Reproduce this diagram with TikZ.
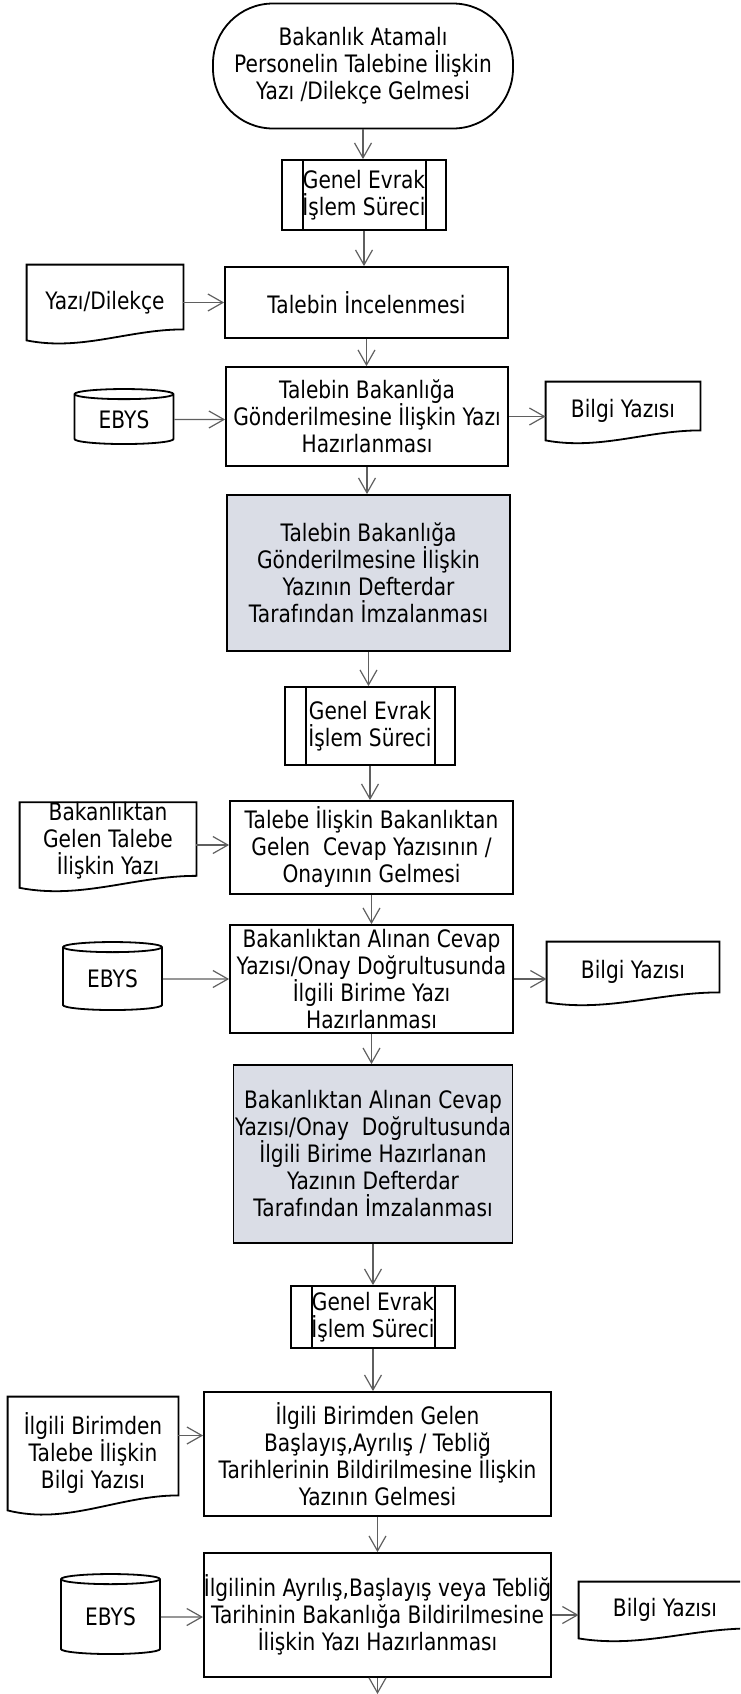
\documentclass[tikz,border=0pt]{standalone}
\usepackage{fontspec}
\setmainfont{DejaVu Sans}[FakeStretch=0.84]
\usetikzlibrary{shapes.geometric,arrows.meta,calc}

\definecolor{greyfill}{RGB}{218,221,230}
\definecolor{arrowgrey}{RGB}{95,95,95}
\newcommand{\chartfont}{\fontsize{12}{13.5}\selectfont}
\newcommand{\docshape}[2]{%
  \draw[line width=0.9pt] (#1.south west) -- (#1.north west) -- (#1.north east) -- ([yshift=#2]#1.south east)
    .. controls ($(#1.south west)!0.65!(#1.south east)+(0,#2)$) and ($(#1.south west)!0.35!(#1.south east)+(0,-#2)$) .. (#1.south west) -- cycle;}

\tikzset{
  box/.style={draw, line width=0.9pt, align=center, inner sep=0pt, font=\chartfont},
  greybox/.style={box, fill=greyfill},
  terminal/.style={box, rounded corners=30pt},
  subproc/.style={box, path picture={
      \draw[line width=0.9pt] ([xshift=10.5pt]path picture bounding box.north west) -- ([xshift=10.5pt]path picture bounding box.south west)
        ([xshift=-10pt]path picture bounding box.north east) -- ([xshift=-10pt]path picture bounding box.south east);}},
  docnode/.style={align=center, inner sep=0pt, font=\chartfont},
  dbase/.style={cylinder, shape border rotate=90, aspect=0.2, draw, line width=0.9pt, inner sep=0pt, font=\chartfont},
  flow/.style={-{Straight Barb[length=7.5pt,width=8.5pt]}, line width=0.6pt, arrowgrey},
}

\begin{document}
\begin{tikzpicture}[x=0.5pt, y=-0.5pt]
  \useasboundingbox (0,0) rectangle (740,1694);
  \clip (0,0) rectangle (740,1694);

  \node[terminal, minimum width=150pt, minimum height=62.5pt] (start) at (363,66) {Bakanlık Atamalı\\Personelin Talebine İlişkin\\Yazı /Dilekçe Gelmesi};
  \node[subproc, minimum width=82pt, minimum height=35pt] (evrak1) at (364,195) {Genel Evrak\\İşlem Süreci};
  \node[box, minimum width=141.5pt, minimum height=35.5pt] (incele) at (366.5,302.5) {Talebin İncelenmesi};
  \node[docnode, minimum width=78pt, minimum height=37.5pt] (dilekce) at (105,302.5) {Yazı/Dilekçe};
  \node[box, minimum width=141pt, minimum height=49.5pt] (hazirla1) at (367,416.5) {Talebin Bakanlığa\\Gönderilmesine İlişkin Yazı\\Hazırlanması};
  \node[dbase, minimum width=49.5pt, minimum height=27.5pt] (ebys1) at (124,419.5) {EBYS};
  \node[docnode, minimum width=77pt, minimum height=29pt] (bilgi1) at (623,411) {Bilgi Yazısı};
  \node[greybox, minimum width=141.5pt, minimum height=78pt] (imza1) at (368.5,573) {Talebin Bakanlığa\\Gönderilmesine İlişkin\\Yazının Defterdar\\Tarafından İmzalanması};
  \node[subproc, minimum width=85pt, minimum height=39pt] (evrak2) at (370,726) {Genel Evrak\\İşlem Süreci};
  \node[box, minimum width=141.5pt, minimum height=46.5pt] (cevap) at (371.5,847.5) {Talebe İlişkin Bakanlıktan\\Gelen\ \ Cevap Yazısının /\\Onayının Gelmesi};
  \node[docnode, minimum width=88pt, minimum height=42pt] (bakyazi) at (108,845) {Bakanlıktan\\Gelen Talebe\\İlişkin Yazı\vspace{4pt}};
  \node[box, minimum width=141.5pt, minimum height=54pt] (hazirla2) at (371.5,979) {Bakanlıktan Alınan Cevap\\Yazısı/Onay Doğrultusunda\\İlgili Birime Yazı\\Hazırlanması};
  \node[dbase, minimum width=49.5pt, minimum height=34pt] (ebys2) at (112.5,979) {EBYS};
  \node[docnode, minimum width=86pt, minimum height=30pt] (bilgi2) at (633,972) {Bilgi Yazısı};
  \node[greybox, minimum width=139.5pt, minimum height=89pt] (imza2) at (373,1154) {Bakanlıktan Alınan Cevap\\Yazısı/Onay\ \ Doğrultusunda\\İlgili Birime Hazırlanan\\Yazının Defterdar\\Tarafından İmzalanması};
  \node[subproc, minimum width=82pt, minimum height=31pt] (evrak3) at (373,1317) {Genel Evrak\\İşlem Süreci};
  \node[box, minimum width=173.5pt, minimum height=62pt] (tarih) at (377.5,1454) {İlgili Birimden Gelen\\Başlayış,Ayrılış / Tebliğ\\Tarihlerinin Bildirilmesine İlişkin\\Yazının Gelmesi};
  \node[docnode, minimum width=85pt, minimum height=56.5pt] (birimyazi) at (93,1453.5) {İlgili Birimden\\Talebe İlişkin\\Bilgi Yazısı};
  \node[box, minimum width=173.5pt, minimum height=62pt] (hazirla3) at (377.5,1615) {İlgilinin Ayrılış,Başlayış veya Tebliğ\\Tarihinin Bakanlığa Bildirilmesine\\İlişkin Yazı Hazırlanması};
  \node[dbase, minimum width=49.5pt, minimum height=40pt] (ebys3) at (110.5,1617) {EBYS};
  \node[docnode, minimum width=86pt, minimum height=28pt] (bilgi3) at (665,1610) {Bilgi Yazısı};
  \coordinate (devam) at (377.5,1694);

  \docshape{dilekce}{5.5pt}
  \docshape{bilgi1}{5pt}
  \docshape{bakyazi}{6pt}
  \docshape{bilgi2}{5pt}
  \docshape{birimyazi}{7.5pt}
  \docshape{bilgi3}{5pt}

  \foreach \a/\b in {start/evrak1, evrak1/incele, incele/hazirla1, hazirla1/imza1, imza1/evrak2,
      evrak2/cevap, cevap/hazirla2, hazirla2/imza2, imza2/evrak3, evrak3/tarih, tarih/hazirla3}
    \draw[flow] (\a.south) -- (\a.south |- \b.north);
  \draw[flow] (hazirla3.south) -- (devam);

  \draw[flow] (dilekce) -- (incele);
  \draw[flow] (ebys1) -- (ebys1 -| hazirla1.west);
  \draw[flow] (hazirla1) -- (hazirla1 -| bilgi1.west);
  \draw[flow] (bakyazi) -- (bakyazi -| cevap.west);
  \draw[flow] (ebys2) -- (ebys2 -| hazirla2.west);
  \draw[flow] (hazirla2) -- (hazirla2 -| bilgi2.west);
  \draw[flow] ([yshift=9pt]birimyazi.east) -- ([yshift=9pt]birimyazi.east -| tarih.west);
  \draw[flow] (ebys3) -- (ebys3 -| hazirla3.west);
  \draw[flow] (hazirla3) -- (hazirla3 -| bilgi3.west);
\end{tikzpicture}
\end{document}
